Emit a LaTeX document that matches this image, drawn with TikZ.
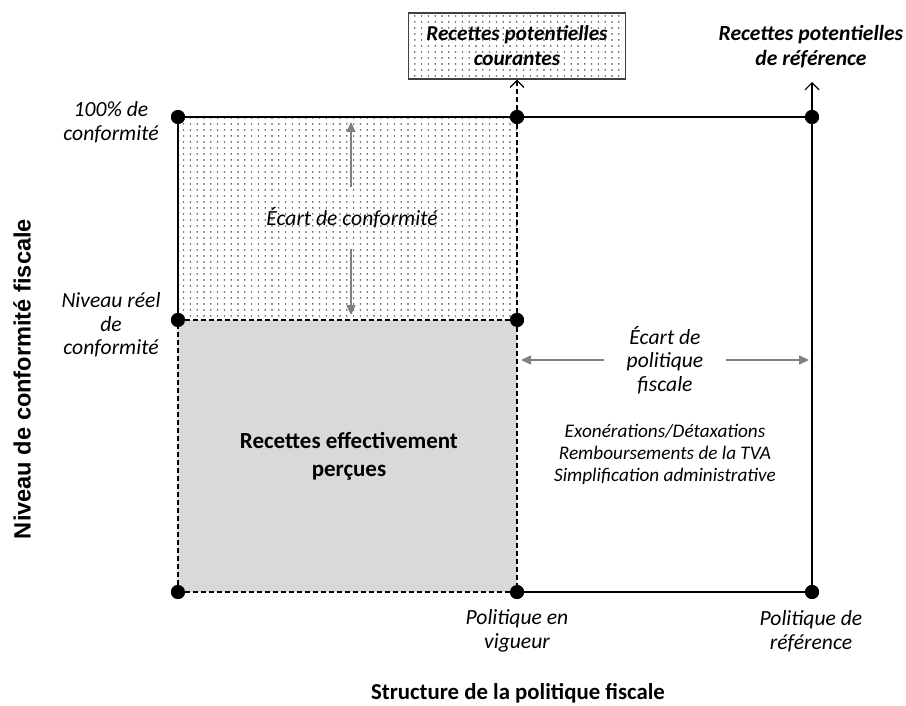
\documentclass[tikz,border=0pt]{standalone}
\usepackage{fontspec}
\setmainfont{Carlito}
\newfontfamily\arialfont{Liberation Sans}
\usepackage{tikz}
\usetikzlibrary{arrows.meta, positioning, patterns}
\pgfdeclarepatternformonly{finedots}{\pgfqpoint{-1pt}{-1pt}}{\pgfqpoint{1pt}{1pt}}{\pgfqpoint{3.4pt}{3pt}}{%
  \pgfpathcircle{\pgfqpoint{0pt}{0pt}}{0.4pt}\pgfusepath{fill}}
\tikzset{
    point/.style={fill, circle, inner sep=0pt, minimum size=7pt},
    edge/.style={line width=0.6pt},
    dashedge/.style={line width=0.6pt, dash pattern=on 2.5pt off 1.5pt},
    dotzone/.style={pattern=finedots, pattern color=black!80},
    gaparrow/.style={-{Triangle[length=5pt,width=4.5pt]}, black!50, line width=0.8pt},
    uparrow/.style={-{Straight Barb[length=3.5pt,width=7pt]}, line width=0.6pt},
    note/.style={align=center, font=\fontsize{10.8}{11.8}\selectfont\itshape},
    title/.style={align=center, font=\fontsize{11.5}{14}\selectfont\bfseries}
}
\begin{document}
\begin{tikzpicture}[x=0.5pt, y=-0.5pt]
    \useasboundingbox (0,0) rectangle (906,706);
    % corners
    \node[point] (tl) at (178,117) {};
    \node[point] (tm) at (517,117) {};
    \node[point] (tr) at (812,117) {};
    \node[point] (ml) at (178,320) {};
    \node[point] (mm) at (517,320) {};
    \node[point] (bl) at (178,592) {};
    \node[point] (bm) at (517,592) {};
    \node[point] (br) at (812,592) {};
    % zones
    \fill[dotzone] (tl.center) rectangle (mm.center);
    \fill[black!15] (ml.center) rectangle (bm.center);
    \draw[edge] (ml) -- (tl) -- (tm) -- (tr) -- (br) -- (bm);
    \draw[dashedge] (tm) -- (mm) -- (bm) -- (bl) -- (ml) -- (mm);
    \foreach \p in {tl,tm,tr,ml,mm,bl,bm,br} \node[point] at (\p) {};
    % potential revenue
    \node[title, font=\fontsize{10.6}{12.5}\selectfont\bfseries\itshape, draw=black!75, line width=0.6pt, dotzone,
          minimum width=108.5pt, minimum height=33pt] (courantes) at (517,46)
          {Recettes potentielles\\courantes};
    \node[title, font=\fontsize{10.8}{12.5}\selectfont\bfseries\itshape] (reference) at (811,47)
          {Recettes potentielles\\de référence};
    \draw[uparrow, dashedge] (tm) -- (courantes.south);
    \coordinate (refup) at (812,82);
    \draw[uparrow] (tr) -- (refup);
    % axis labels
    \node[note] (full) at (111,122) {100\% de\\conformité};
    \node[note] (reel) at (111,325) {Niveau réel\\de\\conformité};
    \node[font=\fontsize{11.8}{14}\selectfont\arialfont\bfseries, rotate=90] (ylab) at (22,379)
          {Niveau de conformité fiscale};
    \node[title, font=\fontsize{11.4}{14}\selectfont\bfseries] (xlab) at (518,693) {Structure de la politique fiscale};
    \node[note] (vigueur) at (517,631) {Politique en\\vigueur};
    \node[note] (polref) at (811,631) {Politique de\\référence};
    % gaps
    \node[note, inner ysep=10pt] (ecartconf) at (352,218) {Écart de conformité};
    \coordinate (confup) at (351,122);
    \coordinate (confdown) at (351,315);
    \draw[gaparrow] (ecartconf.north -| confup) -- (confup);
    \draw[gaparrow] (ecartconf.south -| confdown) -- (confdown);
    \node[note, inner xsep=11pt] (ecartpol) at (665,360) {Écart de\\politique\\fiscale};
    \coordinate (polleft) at (521,360);
    \coordinate (polright) at (809,360);
    \draw[gaparrow] (ecartpol.west) -- (polleft);
    \draw[gaparrow] (ecartpol.east) -- (polright);
    \node[note, font=\fontsize{9.6}{11}\selectfont\itshape] (mesures) at (665,454)
          {Exonérations/Détaxations\\Remboursements de la TVA\\Simplification administrative};
    \node[title] (percues) at (349,456) {Recettes effectivement\\perçues};
\end{tikzpicture}
\end{document}
